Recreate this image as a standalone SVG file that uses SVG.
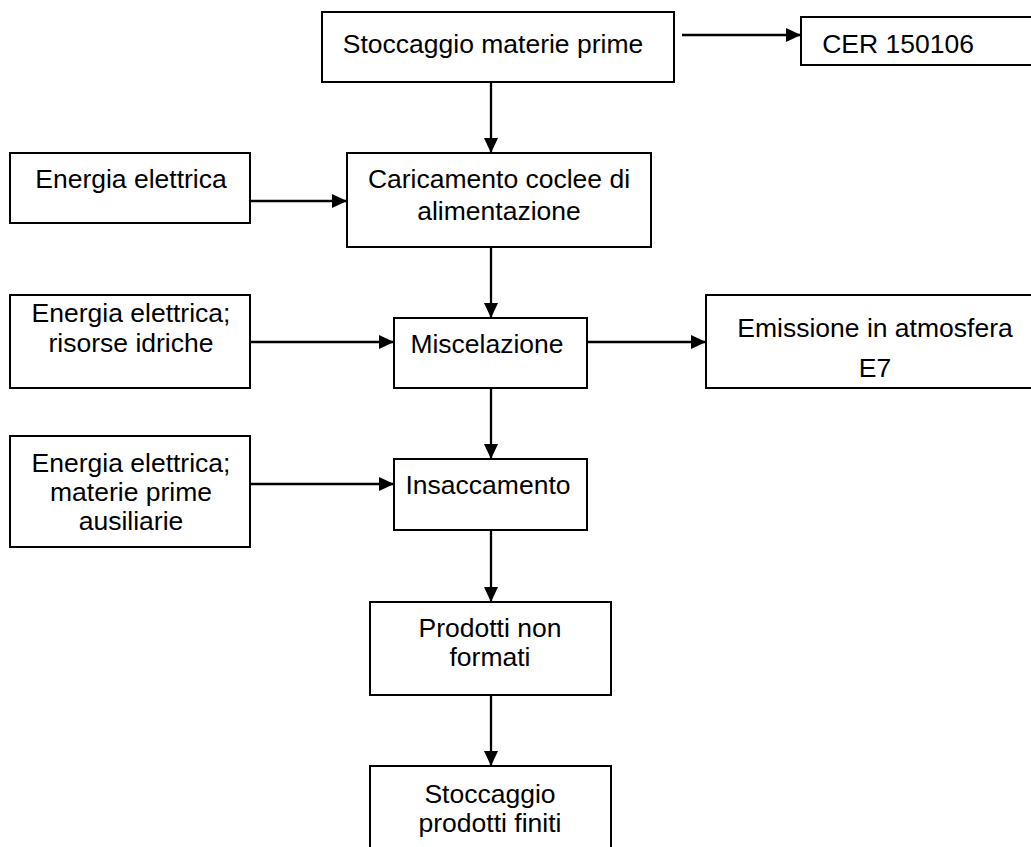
<svg xmlns="http://www.w3.org/2000/svg" width="1031" height="847" viewBox="0 0 1031 847">
<style>
.box{fill:#fff;stroke:#000;stroke-width:2}
.t{font-family:"Liberation Sans",Arial,sans-serif;font-size:26.5px;fill:#000;text-anchor:middle}
.c{stroke:#000;stroke-width:2.3;fill:none;marker-end:url(#ah)}
</style>
<defs>
<marker id="ah" markerUnits="userSpaceOnUse" markerWidth="16" markerHeight="15" refX="15" refY="7" orient="auto">
<path d="M0,0 L15,7 L0,14 z" fill="#000"/>
</marker>
</defs>
<rect width="1031" height="847" fill="#fff"/>
<g id="connectors">
<line class="c" x1="682" y1="35" x2="801" y2="35"/>
<line class="c" x1="491" y1="82" x2="491" y2="153"/>
<line class="c" x1="250" y1="201" x2="347" y2="201"/>
<line class="c" x1="491" y1="247" x2="491" y2="318"/>
<line class="c" x1="250" y1="342" x2="394" y2="342"/>
<line class="c" x1="587" y1="342" x2="706" y2="342"/>
<line class="c" x1="491" y1="388" x2="491" y2="459"/>
<line class="c" x1="250" y1="484" x2="394" y2="484"/>
<line class="c" x1="491" y1="530" x2="491" y2="602"/>
<line class="c" x1="491" y1="695" x2="491" y2="766"/>
</g>
<g id="stoccaggio-materie">
<rect class="box" x="322" y="12" width="352" height="70"/>
<text class="t" x="493" y="53">Stoccaggio materie prime</text>
</g>
<g id="cer">
<rect class="box" x="801" y="17" width="250" height="48"/>
<text class="t" x="898" y="53">CER 150106</text>
</g>
<g id="energia1">
<rect class="box" x="10" y="153" width="240" height="70"/>
<text class="t" x="131" y="188">Energia elettrica</text>
</g>
<g id="caricamento">
<rect class="box" x="347" y="153" width="304" height="94"/>
<text class="t" x="499" y="188">Caricamento coclee di</text>
<text class="t" x="499" y="220">alimentazione</text>
</g>
<g id="energia2">
<rect class="box" x="10" y="295" width="240" height="93"/>
<text class="t" x="131" y="322">Energia elettrica;</text>
<text class="t" x="131" y="352">risorse idriche</text>
</g>
<g id="miscelazione">
<rect class="box" x="394" y="318" width="193" height="70"/>
<text class="t" x="487" y="353">Miscelazione</text>
</g>
<g id="emissione">
<rect class="box" x="706" y="295" width="345" height="93"/>
<text class="t" x="875" y="337">Emissione in atmosfera</text>
<text class="t" x="875" y="377">E7</text>
</g>
<g id="energia3">
<rect class="box" x="10" y="436" width="240" height="111"/>
<text class="t" x="131" y="472">Energia elettrica;</text>
<text class="t" x="131" y="501">materie prime</text>
<text class="t" x="131" y="530">ausiliarie</text>
</g>
<g id="insaccamento">
<rect class="box" x="394" y="459" width="193" height="71"/>
<text class="t" x="488" y="494">Insaccamento</text>
</g>
<g id="prodotti">
<rect class="box" x="370" y="602" width="241" height="93"/>
<text class="t" x="490" y="637">Prodotti non</text>
<text class="t" x="490" y="666">formati</text>
</g>
<g id="stoccaggio-prodotti">
<rect class="box" x="370" y="766" width="241" height="100"/>
<text class="t" x="490" y="803">Stoccaggio</text>
<text class="t" x="490" y="832">prodotti finiti</text>
</g>
</svg>
